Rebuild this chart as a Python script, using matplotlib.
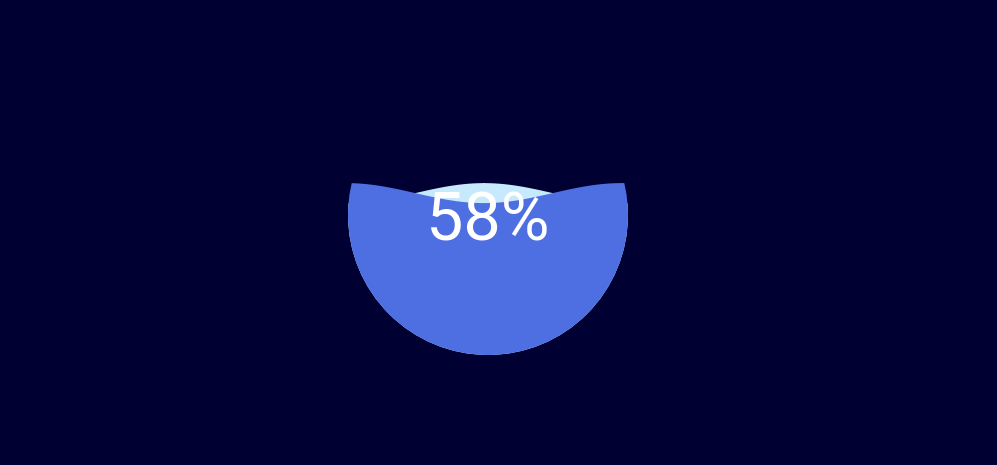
import numpy as np
import matplotlib.pyplot as plt
from matplotlib.patches import Circle

# liquid fill value and its label
values = [0.58]
labels = ['58%']

bg_color = '#000033'
front_color = '#4e6fe2'
back_color = '#c6e9fb'

fig = plt.figure(figsize=(9.97, 4.65), dpi=100, facecolor=bg_color)
ax = fig.add_axes([0, 0, 1, 1])
ax.set_xlim(0, 997)
ax.set_ylim(465, 0)
ax.set_aspect('equal')
ax.axis('off')

cx, cy, r = 488, 215, 140
wave_len = 275
amp = 10
level = cy + r - values[0] * 2 * r

xs = np.linspace(cx - r - 2, cx + r + 2, 800)
phase = 2 * np.pi * (xs - (cx - r - 2)) / wave_len
back = level + amp * np.cos(phase)
front = level - amp * np.cos(phase)

clip = Circle((cx, cy), r, transform=ax.transData)

b = ax.fill_between(xs, back, cy + r + 5, color=back_color, lw=0)
b.set_clip_path(clip)
f = ax.fill_between(xs, front, cy + r + 5, color=front_color, lw=0)
f.set_clip_path(clip)

ax.text(cx, 240, labels[0], ha='center', va='baseline', fontsize=48,
        color='white', family='Roboto')

plt.savefig('out.png', dpi=100, facecolor=bg_color)
